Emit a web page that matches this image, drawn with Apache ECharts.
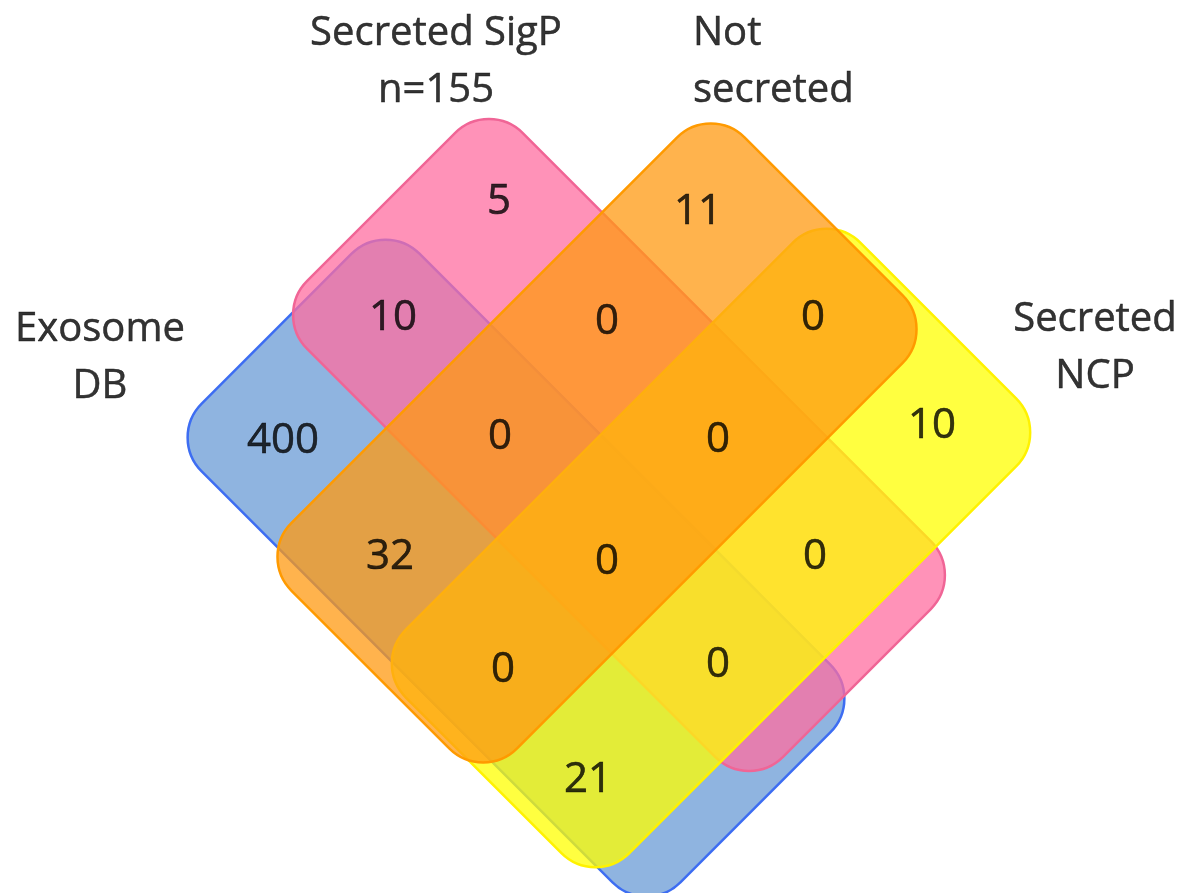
<!DOCTYPE html>
<html>
<head>
<meta charset="utf-8">
<script src="https://cdn.jsdelivr.net/npm/echarts@6/dist/echarts.min.js"></script>
<style>
  html, body { margin: 0; padding: 0; background: #ffffff; }
  #chart { width: 1191px; height: 893px; }
</style>
</head>
<body>
<div id="chart"></div>
<script>
// set names (blue, pink, orange, yellow)
const setNames = ['Exosome\nDB', 'Secreted SigP\nn=155', 'Not\nsecreted', 'Secreted\nNCP'];
// regions: A=Exosome DB, B=Secreted SigP, C=Not secreted, D=Secreted NCP
const regionNames = ['A', 'B', 'C', 'D', 'AB', 'BC', 'CD', 'ABC', 'BCD', 'AC', 'ABCD', 'BD', 'ACD', 'ABD', 'AD'];
const regionCounts = [400, 5, 11, 10, 10, 0, 0, 0, 0, 32, 0, 0, 0, 0, 21];

// layout only (pixel-like units of the hidden axes), drawn in this order
const setLayout = [
  { cx: 516, cy: 568, w: 308, h: 677, fill: 'rgba(106,155,214,0.75)', line: '#3d6df2' },
  { cx: 619, cy: 445, w: 305, h: 673, fill: 'rgba(255,110,160,0.75)', line: '#f06596' },
  { cx: 711, cy: 548, w: 643, h: 316, fill: 'rgba(255,255,0,0.75)', line: '#fff200' },
  { cx: 597, cy: 443, w: 641, h: 319, fill: 'rgba(255,154,18,0.75)', line: '#ff9a00' }
];
const titleLayout = [
  { x: 100, y: 358, align: 'center' },
  { x: 436, y: 62, align: 'center' },
  { x: 693, y: 62, align: 'left' },
  { x: 1095, y: 348, align: 'center' }
];
const regionLayout = [
  [283, 441], [499, 202], [698, 212], [932, 426], [393, 318], [607, 322], [813, 318],
  [500, 437], [718, 440], [390, 557], [607, 562], [815, 557], [503, 670], [718, 665], [588, 780]
];

const chart = echarts.init(document.getElementById('chart'));

const option = {
  animation: false,
  grid: { left: 0, right: 0, top: 0, bottom: 0 },
  xAxis: { type: 'value', min: 0, max: 1191, show: false },
  yAxis: { type: 'value', min: 0, max: 893, inverse: true, show: false },
  series: [
    {
      type: 'custom',
      silent: true,
      data: setLayout.map((s, i) => [i]),
      renderItem: function (params, api) {
        const s = setLayout[api.value(0)];
        const c = api.coord([s.cx, s.cy]);
        const sz = api.size([s.w, s.h]);
        return {
          type: 'rect',
          x: c[0],
          y: c[1],
          rotation: Math.PI / 4,
          shape: { x: -sz[0] / 2, y: -sz[1] / 2, width: sz[0], height: sz[1], r: 48 },
          style: { fill: s.fill, stroke: s.line, lineWidth: 2.5 }
        };
      }
    },
    {
      type: 'scatter',
      silent: true,
      symbolSize: 0,
      data: regionCounts.map((v, i) => ({ name: regionNames[i], value: [regionLayout[i][0], regionLayout[i][1], v] })),
      label: {
        show: true,
        position: 'inside',
        formatter: p => String(p.value[2]),
        color: '#000',
        textBorderColor: '#000',
        textBorderWidth: 0.6,
        fontFamily: 'Open Sans',
        fontSize: 42
      }
    },
    {
      type: 'scatter',
      silent: true,
      symbolSize: 0,
      data: setNames.map((n, i) => ({
        name: n,
        value: [titleLayout[i].x, titleLayout[i].y],
        label: { align: titleLayout[i].align }
      })),
      label: {
        show: true,
        position: 'inside',
        formatter: '{b}',
        color: '#000',
        textBorderColor: '#000',
        textBorderWidth: 0.5,
        fontFamily: 'Open Sans',
        fontSize: 40,
        lineHeight: 57
      }
    }
  ]
};
chart.setOption(option);
</script>
</body>
</html>
